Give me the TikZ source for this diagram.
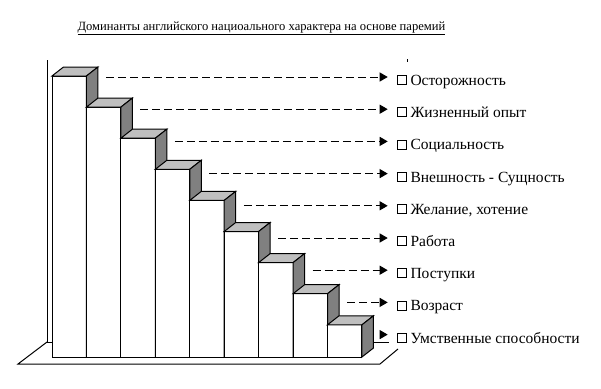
\documentclass[tikz,border=0pt]{standalone}
\usepackage{fontspec}
\setmainfont{Liberation Serif}
\usetikzlibrary{arrows.meta,positioning}

\tikzset{
  front/.style={draw,fill=white},
  topface/.style={draw,fill=black!25},
  sideface/.style={draw,fill=black!50},
  callout/.style={dash pattern=on 8pt off 4pt,-{Triangle[length=8pt,width=9pt]},shorten >=9pt},
  legbox/.style={draw,minimum size=9pt,inner sep=0pt,line width=0.6pt},
  legtext/.style={anchor=base west,inner sep=0pt,font=\fontsize{15.5}{16}\selectfont},
  heading/.style={anchor=base,inner sep=0pt,font=\fontsize{12.6}{14}\selectfont}
}

\begin{document}
\begin{tikzpicture}[x=1pt,y=-1pt,line width=1pt,line join=miter]
  \useasboundingbox (0,0) rectangle (601,388);

  \node[heading] (title) at (261.5,30) {\underline{Доминанты английского нациоального характера на основе паремий}};

  % wall and floor
  \draw (47,60) -- (47,342) -- (389,342);
  \draw (398,349) -- (380,364) -- (18,364) -- (47,342);
  \draw (407,59) -- (407,62);

  % bars, left to right
  \foreach \i in {0,...,8}{
    \pgfmathsetmacro{\xl}{52+34.44*\i}
    \pgfmathsetmacro{\xr}{52+34.44*(\i+1)}
    \pgfmathsetmacro{\yt}{76+31.1*\i}
    \draw[front] (\xl,357) rectangle (\xr,\yt);
    \draw[topface] (\xl,\yt) -- (\xl+11.5,\yt-9) -- (\xr+11.5,\yt-9) -- (\xr,\yt) -- cycle;
    \draw[sideface] (\xr,\yt) -- (\xr+11.5,\yt-9) -- (\xr+11.5,348) -- (\xr,357) -- cycle;
  }

  % legend
  \foreach \i/\txt in {0/Осторожность,1/Жизненный опыт,2/Социальность,3/Внешность - Сущность,
      4/{Желание, хотение},5/Работа,6/Поступки,7/Возраст,8/Умственные способности}{
    \pgfmathsetmacro{\ya}{77+32.2*\i}
    \coordinate (s\i) at ({min(106+34.44*\i,380)},\ya);
    \node[legbox] (box\i) at (401.5,\ya+3) {};
    \node[legtext] (lab\i) at (410,\ya+8.5) {\txt};
    \draw[callout] (s\i) -- (s\i -| box\i.west);
  }
\end{tikzpicture}
\end{document}
